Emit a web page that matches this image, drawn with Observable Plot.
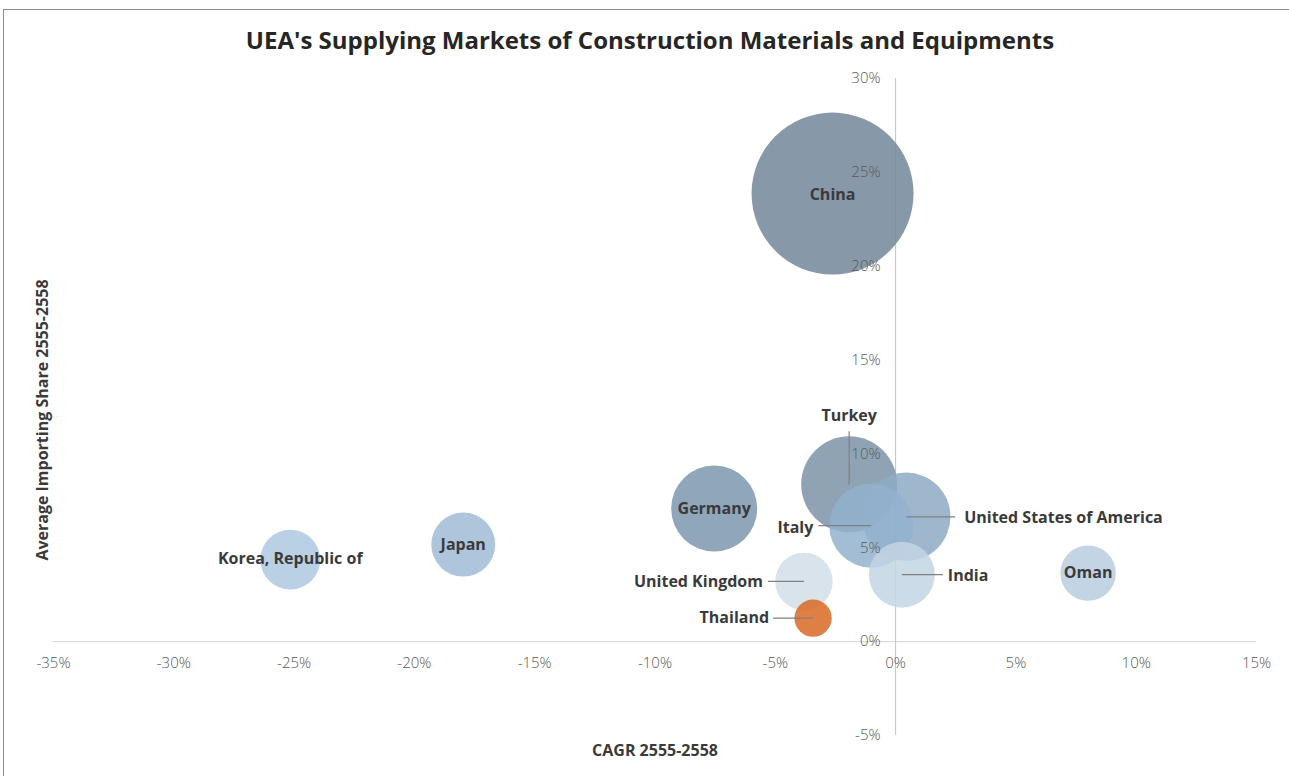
<!DOCTYPE html>
<html>
<head>
<meta charset="utf-8">
<script src="https://cdn.jsdelivr.net/npm/d3@7"></script>
<script src="https://cdn.jsdelivr.net/npm/@observablehq/plot@0.6"></script>
<style>
  html, body { margin: 0; padding: 0; background: #fff; overflow: hidden; }
  #wrap { position: relative; width: 1289px; height: 776px; }
  #border { position: absolute; left: 3px; top: 9px; width: 1400px; height: 900px; border: 1.5px solid #8c8c8c; box-sizing: border-box; pointer-events: none; }
  #chart { position: absolute; left: 0; top: 0; }
</style>
</head>
<body>
<div id="wrap"><div id="border"></div><div id="chart"></div></div>
<script>
// ---- data ----
const countries = ["China", "Germany", "Turkey", "United States of America", "Italy", "Japan", "Korea, Republic of", "United Kingdom", "India", "Oman", "Thailand"];
const cagr  = [-2.62, -7.54, -1.93, 0.44, -1.01, -17.97, -25.16, -3.81, 0.26, 8.0, -3.43];   // CAGR 2555-2558 (%)
const share = [23.87, 7.09, 8.38, 6.65, 6.18, 5.17, 4.37, 3.21, 3.57, 3.65, 1.25];            // Average importing share (%)
const size  = [100, 28.2, 35.1, 29.9, 26.9, 15.6, 13.7, 12.6, 16.6, 11.7, 5.3];               // bubble size (relative import value)
const xTicks = [-35, -30, -25, -20, -15, -10, -5, 0, 5, 10, 15];
const yTicks = [-5, 0, 5, 10, 15, 20, 25, 30];

const titleText = "UEA's Supplying Markets of Construction Materials and Equipments";
const xTitle = "CAGR 2555-2558";
const yTitle = "Average Importing Share 2555-2558";

// ---- layout / style ----
const W = 1289, H = 776, ML = 53, MR = 33, MT = 78, MB = 41;
const xDomain = [-35, 15], yDomain = [-5, 30];
const pxX = (W - ML - MR) / (xDomain[1] - xDomain[0]);
const pxY = (H - MT - MB) / (yDomain[1] - yDomain[0]);
const colorRange = ["#728699", "#7d96ae", "#7b93a8", "#8eaac3", "#93b1ce", "#a0bbd6", "#aec8df", "#d2dee9", "#c3d5e4", "#b8cce0", "#d96923"];

// label placement (pixels relative to bubble centre) and leader length
const labelLayout = {
  "China": {anchor: "middle", dx: 0, dy: 1},
  "Germany": {anchor: "middle", dx: 0, dy: 0},
  "Japan": {anchor: "middle", dx: 0, dy: 0},
  "Oman": {anchor: "middle", dx: 0, dy: 0},
  "Korea, Republic of": {anchor: "middle", dx: 0, dy: -1},
  "Turkey": {anchor: "middle", dx: 0, dy: -68, leaderV: 53},
  "United States of America": {anchor: "start", dx: 58, dy: 1, leaderH: 49},
  "Italy": {anchor: "end", dx: -58, dy: 2, leaderH: -53},
  "India": {anchor: "start", dx: 46, dy: 1, leaderH: 41},
  "United Kingdom": {anchor: "end", dx: -41, dy: 0, leaderH: -36},
  "Thailand": {anchor: "end", dx: -44, dy: 0, leaderH: -40}
};

const rows = countries.map((c, i) => ({country: c, x: cagr[i], y: share[i], size: size[i]}));
const labels = rows.map(d => {
  const L = labelLayout[d.country];
  return {text: d.country, anchor: L.anchor, lx: d.x + L.dx / pxX, ly: d.y - L.dy / pxY};
});
const leaders = rows.filter(d => labelLayout[d.country].leaderH || labelLayout[d.country].leaderV).map(d => {
  const L = labelLayout[d.country];
  if (L.leaderV) return {x1: d.x, y1: d.y, x2: d.x, y2: d.y + L.leaderV / pxY};
  return {x1: d.x, y1: d.y, x2: d.x + L.leaderH / pxX, y2: d.y};
});

const labelFont = {fontSize: 16, fontWeight: 700, fill: "#3a3a3a"};
const tickFont = {fontSize: 15, fontWeight: 300, fill: "#595959"};

const chart = Plot.plot({
  width: W, height: H,
  marginLeft: ML, marginRight: MR, marginTop: MT, marginBottom: MB,
  style: {fontFamily: "'Open Sans', sans-serif", background: "transparent"},
  x: {domain: xDomain, axis: null},
  y: {domain: yDomain, axis: null},
  r: {type: "sqrt", domain: [0, 100], range: [0, 81]},
  color: {type: "ordinal", domain: countries, range: colorRange},
  marks: [
    Plot.ruleY([0], {x1: xDomain[0], x2: xDomain[1], stroke: "#d4d4d4", strokeWidth: 1}),
    Plot.ruleX([0], {y1: yDomain[0], y2: yDomain[1], stroke: "#c4c4c4", strokeWidth: 1}),
    Plot.dot(rows, {x: "x", y: "y", r: "size", fill: "country", fillOpacity: 0.85, sort: null}),
    Plot.link(leaders, {x1: "x1", y1: "y1", x2: "x2", y2: "y2", stroke: "#808080", strokeWidth: 1.2}),
    ...["middle", "start", "end"].map(a =>
      Plot.text(labels.filter(d => d.anchor === a), {x: "lx", y: "ly", text: "text", textAnchor: a, lineAnchor: "middle", ...labelFont})
    ),
    Plot.text(xTicks, {x: d => d, y: 0, dy: 21.5, text: d => `${d}%`, lineAnchor: "middle", ...tickFont}),
    Plot.text(yTicks, {x: 0, y: d => d, dx: -15, text: d => `${d}%`, textAnchor: "end", lineAnchor: "middle", ...tickFont}),
    Plot.text([titleText], {frameAnchor: "top", dx: -5, dy: -37, lineAnchor: "middle", fontSize: 24, fontWeight: 700, fill: "#262626"}),
    Plot.text([xTitle], {frameAnchor: "bottom", dy: 15, lineAnchor: "middle", fontSize: 16, fontWeight: 700, fill: "#3a3a3a", letterSpacing: "1.2px"}),
    Plot.text([yTitle], {frameAnchor: "left", dx: -11, dy: 13, rotate: -90, textAnchor: "middle", lineAnchor: "middle", fontSize: 16, fontWeight: 700, fill: "#3a3a3a"})
  ]
});
document.getElementById("chart").appendChild(chart);
</script>
</body>
</html>
